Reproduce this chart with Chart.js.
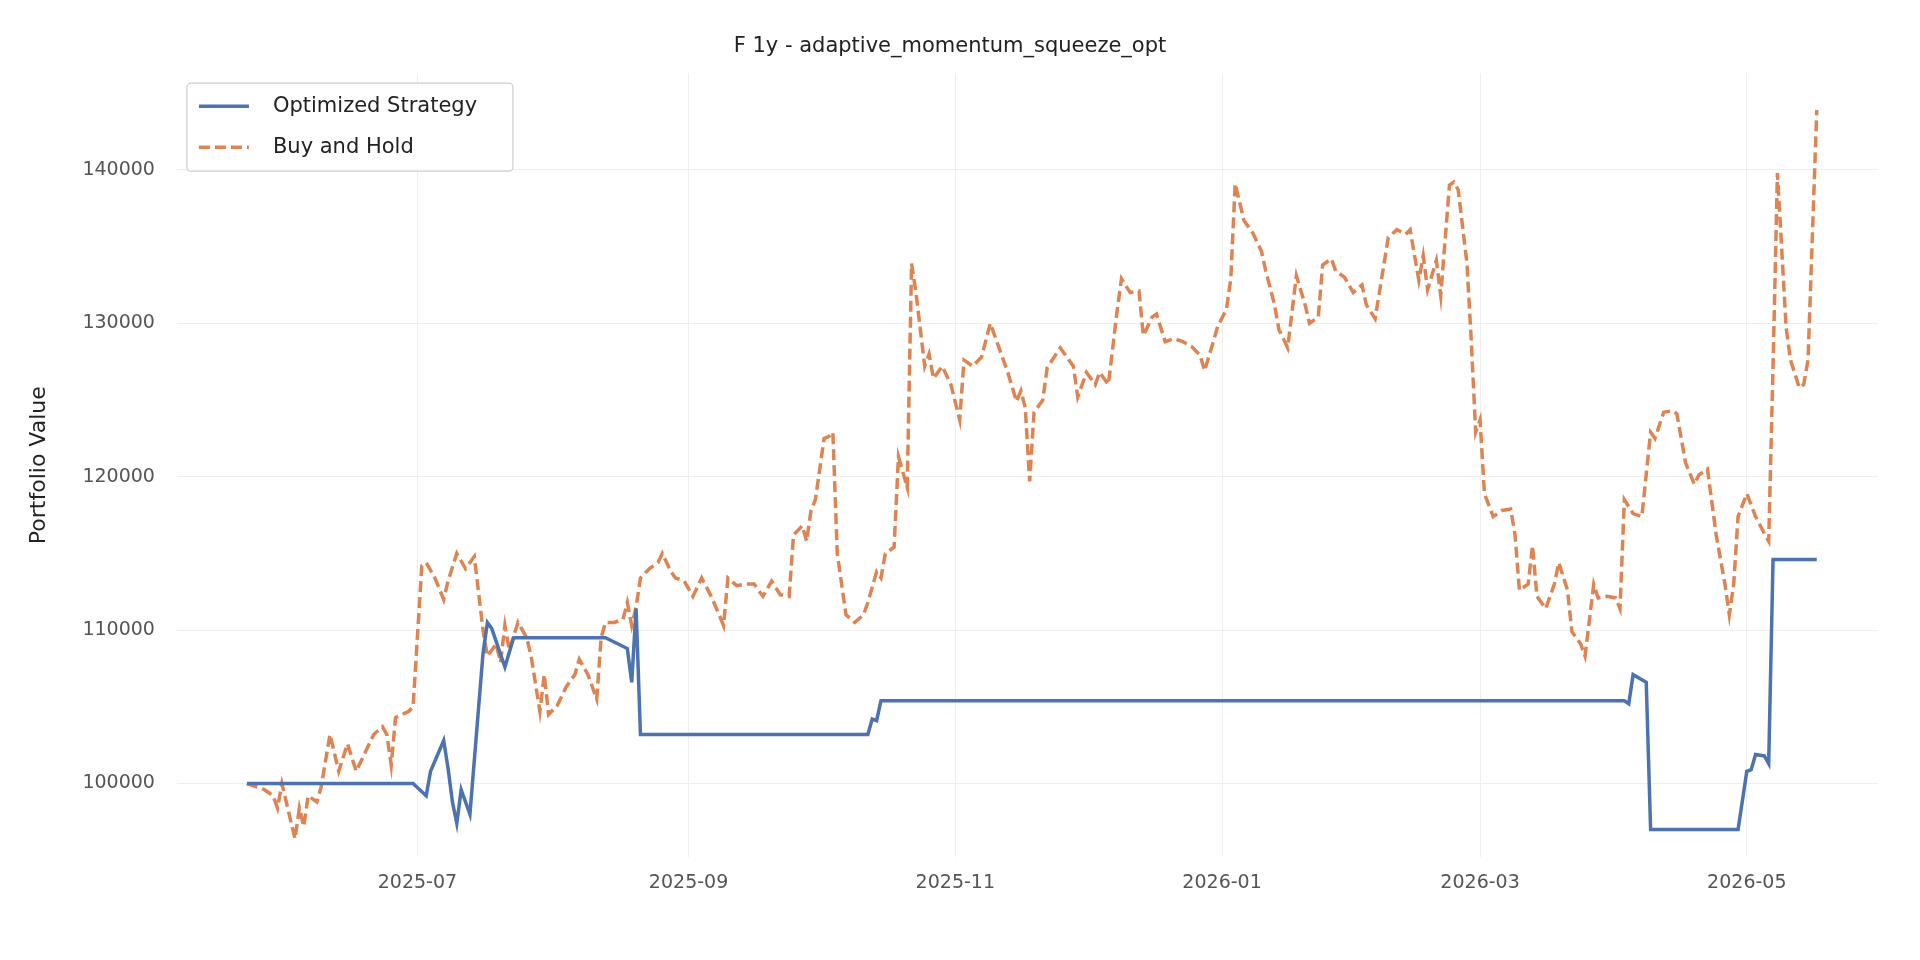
<!DOCTYPE html>
<html><head><meta charset="utf-8">
<script src="https://cdn.jsdelivr.net/npm/chart.js@4"></script>
<style>body{margin:0;background:#fff}#w{width:1920px;height:960px}</style>
</head><body><div id="w"><canvas id="c"></canvas></div>
<script>
const startDate = '2025-05-23';
const title = 'F 1y - adaptive_momentum_squeeze_opt';
const tickMonths = ['2025-07-01','2025-09-01','2025-11-01','2026-01-01','2026-03-01','2026-05-01'];
const yTicks = [100000,110000,120000,130000,140000];

// trading-day offsets (days since startDate) and values
const bhDays = [0,4,6,7,8,9,11,12,13,14,16,17,19,21,23,25,27,29,31,32,33,34,37,38,40,41,43,45,46,48,50,52,54,55,57,58,59,60,62,64,65,67,68,69,71,73,75,76,78,80,81,82,84,86,87,88,89,90,92,94,95,97,98,100,102,104,106,108,109,110,112,114,116,118,120,122,124,125,127,128,129,130,132,133,134,135,137,139,141,142,144,145,146,148,149,151,152,153,155,156,157,159,161,163,164,166,168,170,172,174,176,177,178,179,180,182,183,186,189,190,192,194,195,197,199,200,202,204,205,207,208,210,212,214,216,218,219,221,222,224,225,226,228,230,232,233,235,236,238,240,242,243,245,246,248,249,251,253,255,256,258,260,261,263,265,266,268,269,270,272,273,275,276,277,279,280,281,282,283,285,287,289,290,291,293,294,295,297,299,300,302,303,305,306,308,309,311,313,314,315,317,319,321,322,324,326,327,329,331,332,334,336,338,339,340,341,343,345,347,348,349,350,352,353,355,356,357,359];
const bhValues = [100000,99600,99200,98400,100000,98800,96400,98400,97200,99200,98800,99800,103200,100800,102600,100800,102000,103200,103700,103200,101200,104300,104700,105000,114200,114400,113400,112000,113200,115000,114000,114800,110000,108300,109100,107900,110300,108700,110500,109500,108300,104700,107100,104500,105100,106300,107100,108100,107100,105500,109500,110500,110500,110700,111800,110300,111500,113400,114000,114400,115000,113800,113400,113200,112200,113400,112300,111000,110300,113400,112900,113000,113000,112200,113200,112300,112200,116200,116800,115800,117800,118500,122500,122600,122900,115000,111000,110500,111000,111800,113800,113400,115000,115400,121300,119300,133900,132000,127200,128000,126400,127200,126000,123700,127600,127200,127800,130000,128400,126800,124900,125600,124500,119700,124200,125000,127100,128400,127200,125200,126800,126000,126800,126000,130800,132900,132000,132100,129200,130400,130600,128800,129000,128800,128500,127900,126900,128800,129800,130900,132900,139100,136700,135900,134700,133400,131200,129600,128400,133100,131200,130000,130400,133800,134200,133400,133000,132000,132500,131200,130300,133800,135600,136100,135800,136100,132800,134400,132200,134100,131800,139000,139200,138700,133900,128800,122900,123700,118900,117400,117800,117900,116200,112600,113000,115500,112200,111400,113000,114400,112600,109900,109100,108300,113000,112100,112200,112100,111400,118500,117600,117400,122900,122500,124200,124300,124100,120900,119500,120100,120500,116200,113000,111000,113000,117400,118900,117400,116300,115800,127200,139800,129700,127600,125800,126000,127600,143900];

const stDays = [0,38,41,42,45,46,47,48,49,51,54,55,56,59,61,82,87,88,89,90,142,143,144,145,315,316,317,320,321,341,343,344,345,347,348,349,359];
const stValues = [100000,100000,99200,100800,102800,101000,98800,97400,99600,98000,108500,110500,110100,107600,109500,109500,108800,106600,111400,103200,103200,104200,104100,105400,105400,105200,107100,106600,97000,97000,100800,100900,101900,101800,101300,114600,114600];

const t0 = Date.parse(startDate);
const dayOf = s => (Date.parse(s) - t0) / 86400000;
const pts = (d, v) => d.map((x, i) => ({x, y: v[i]}));
const F = 'DejaVu Sans';

const customLegend = {
  id: 'customLegend',
  afterDraw(chart) {
    const ctx = chart.ctx, a = chart.chartArea;
    const x = a.left + 10, y = a.top + 10, w = 326, h = 88;
    ctx.save();
    ctx.fillStyle = 'rgba(255,255,255,0.85)'; ctx.strokeStyle = '#cccccc'; ctx.lineWidth = 1.2;
    ctx.beginPath(); ctx.roundRect(x, y, w, h, 4); ctx.fill(); ctx.stroke();
    ctx.font = '21px ' + F; ctx.textBaseline = 'middle'; ctx.fillStyle = '#222';
    chart.data.datasets.forEach((d, i) => {
      const cy = y + 23 + i * 41;
      ctx.strokeStyle = d.borderColor; ctx.lineWidth = 3.5; ctx.setLineDash(d.borderDash || []);
      ctx.beginPath(); ctx.moveTo(x + 12, cy); ctx.lineTo(x + 62, cy); ctx.stroke();
      ctx.setLineDash([]);
      ctx.fillText(d.label, x + 86, cy);
    });
    ctx.restore();
  }
};

new Chart(document.getElementById('c'), {
  type: 'line',
  data: { datasets: [
    { label: 'Optimized Strategy', data: pts(stDays, stValues), borderColor: '#4c72b0', backgroundColor: '#4c72b0', borderWidth: 3.5, pointRadius: 0, tension: 0 },
    { label: 'Buy and Hold', data: pts(bhDays, bhValues), borderColor: '#dd8452', backgroundColor: '#dd8452', borderWidth: 3.5, borderDash: [11, 5], pointRadius: 0, tension: 0 }
  ]},
  plugins: [customLegend],
  options: {
    responsive: true, maintainAspectRatio: false, animation: false,
    layout: { padding: { left: 22, right: 42, top: 8, bottom: 52 } },
    plugins: {
      title: { display: true, text: title, color: '#222', font: { family: F, size: 21, weight: 'normal' }, padding: { top: 26, bottom: 14 } },
      legend: { display: false },
      tooltip: { enabled: false }
    },
    scales: {
      x: { type: 'linear', min: -16, max: 373,
        afterBuildTicks(ax) { ax.ticks = tickMonths.map(m => ({ value: dayOf(m) })); },
        ticks: { color: '#555', font: { family: F, size: 19 }, padding: 14, callback: v => { const d = new Date(t0 + v * 86400000 + 43200000); return d.getUTCFullYear() + '-' + String(d.getUTCMonth() + 1).padStart(2, '0'); } },
        grid: { color: '#efefef', drawTicks: false }, border: { display: false } },
      y: { min: 95200, max: 146300,
        afterBuildTicks(ax) { ax.ticks = yTicks.map(v => ({ value: v })); },
        ticks: { color: '#555', font: { family: F, size: 19 }, padding: 22, callback: v => String(v) },
        title: { display: true, text: 'Portfolio Value', color: '#222', font: { family: F, size: 22 }, padding: { bottom: 8 } },
        grid: { color: '#efefef', drawTicks: false }, border: { display: false } }
    }
  }
});
</script></body></html>
